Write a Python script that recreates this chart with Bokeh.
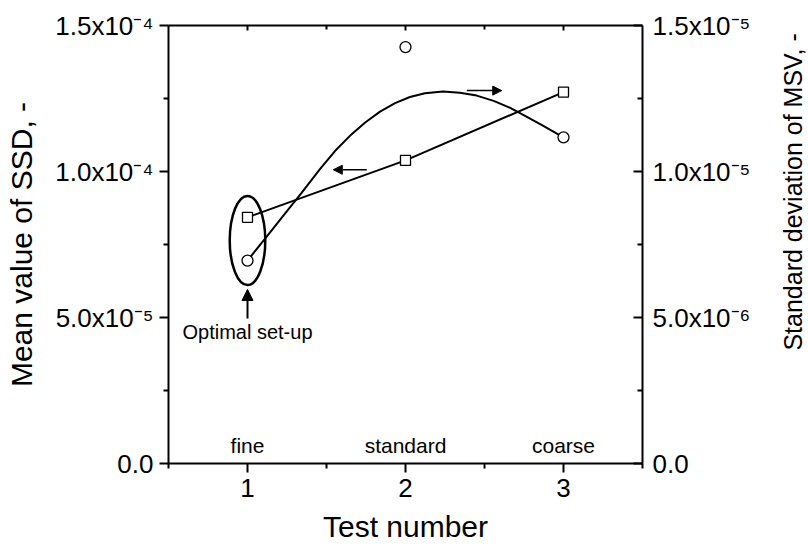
import math
from bokeh.plotting import figure
from bokeh.layouts import row
from bokeh.models import Range1d, LinearAxis, FixedTicker, Arrow, NormalHead
from bokeh.core.properties import value
from bokeh.embed import file_html
from bokeh.resources import INLINE

# ---- data ----
test_number = [1, 2, 3]
set_up_names = ["fine", "standard", "coarse"]
ssd_mean = [8.43e-5, 1.038e-4, 1.272e-4]          # left axis, squares
msv_std = [6.95e-6, 1.426e-5, 1.117e-5]           # right axis, circles
# smooth curve drawn through the MSV points
curve_x = [1.000, 1.114, 1.227, 1.341, 1.461, 1.555, 1.650, 1.745, 1.839, 1.934,
           2.028, 2.123, 2.237, 2.344, 2.451, 2.558, 2.659, 2.722, 2.861, 3.000]
curve_y = [6.95e-6, 7.72e-6, 8.49e-6, 9.26e-6, 1.010e-5, 1.071e-5, 1.123e-5, 1.168e-5,
           1.205e-5, 1.234e-5, 1.255e-5, 1.268e-5, 1.274e-5, 1.270e-5, 1.260e-5,
           1.242e-5, 1.219e-5, 1.201e-5, 1.160e-5, 1.117e-5]

left_ticks = [0, 5e-5, 1e-4, 1.5e-4]
left_labels = ["0.0", "5.0x10\u207b\u2075", "1.0x10\u207b\u2074", "1.5x10\u207b\u2074"]
right_ticks = [0, 5e-6, 1e-5, 1.5e-5]
right_labels = ["0.0", "5.0x10\u207b\u2076", "1.0x10\u207b\u2075", "1.5x10\u207b\u2075"]
right_title = "Standard deviation of MSV, -"

FONT = "Liberation Sans"

p = figure(width=770, height=550, output_backend="svg", toolbar_location=None,
           x_range=Range1d(0.5, 3.5), y_range=Range1d(0, 1.5e-4),
           min_border_left=168, min_border_right=128, min_border_top=25, min_border_bottom=87)
p.extra_y_ranges = {"right": Range1d(0, 1.5e-5)}
p.xgrid.grid_line_color = None
p.ygrid.grid_line_color = None
p.outline_line_color = None
p.background_fill_color = "white"
p.border_fill_color = "white"

def style(ax):
    ax.axis_line_width = 2
    ax.major_tick_line_width = 2
    ax.minor_tick_line_width = 2
    ax.axis_line_color = "black"
    ax.major_tick_line_color = "black"
    ax.minor_tick_line_color = "black"
    ax.major_label_text_font = FONT
    ax.axis_label_text_font = FONT
    ax.major_label_text_color = "black"
    ax.axis_label_text_color = "black"
    ax.axis_label_text_font_style = "normal"

# bottom axis
xa = p.xaxis[0]
style(xa)
xa.ticker = FixedTicker(ticks=test_number, minor_ticks=[0.5, 1.5, 2.5, 3.5])
xa.major_tick_out = 9
xa.major_tick_in = 0
xa.minor_tick_out = 5
xa.minor_tick_in = 0
xa.major_label_text_font_size = "26px"
xa.axis_label = "Test number"
xa.axis_label_text_font_size = "30px"
xa.major_label_standoff = 6
xa.axis_label_standoff = 10

# left axis
ya = p.yaxis[0]
style(ya)
ya.ticker = FixedTicker(ticks=left_ticks, minor_ticks=[2.5e-5, 7.5e-5, 1.25e-4])
ya.major_label_overrides = dict(zip(left_ticks, left_labels))
ya.major_tick_out = 9
ya.major_tick_in = 0
ya.minor_tick_out = 5
ya.minor_tick_in = 0
ya.major_label_text_font_size = "26px"
ya.axis_label = "Mean value of SSD, -"
ya.axis_label_text_font_size = "30px"
ya.major_label_standoff = 6
ya.axis_label_standoff = 14

# right axis
ra = LinearAxis(y_range_name="right")
style(ra)
ra.ticker = FixedTicker(ticks=right_ticks, minor_ticks=[2.5e-6, 7.5e-6, 1.25e-5])
ra.major_label_overrides = dict(zip(right_ticks, right_labels))
ra.major_tick_in = 9
ra.major_tick_out = 0
ra.minor_tick_in = 5
ra.minor_tick_out = 0
ra.major_label_text_font_size = "26px"
ra.major_label_standoff = 10
p.add_layout(ra, "right")

# top axis (ticks only)
ta = LinearAxis()
style(ta)
ta.ticker = FixedTicker(ticks=test_number, minor_ticks=[1.5, 2.5])
ta.major_label_overrides = {t: "" for t in test_number}
ta.major_label_text_font_size = "1px"
ta.major_tick_in = 5
ta.major_tick_out = 0
ta.minor_tick_in = 4
ta.minor_tick_out = 0
ta.major_label_standoff = 0
p.add_layout(ta, "above")

# series
p.line(curve_x, curve_y, y_range_name="right", line_color="black", line_width=2)
p.line(test_number, ssd_mean, line_color="black", line_width=2)
p.scatter(test_number, ssd_mean, marker="square", size=10, fill_color="white",
          line_color="black", line_width=1.3)
p.scatter(test_number, msv_std, marker="circle", size=11, fill_color="white",
          line_color="black", line_width=1.3, y_range_name="right")

# set-up names along the bottom
p.text(x=test_number, y=[6.2e-6] * 3, text=set_up_names, text_font=value(FONT),
       text_font_size="21px", text_align="center", text_baseline="middle",
       text_color="black")

# axis-indicating arrows
p.add_layout(Arrow(end=NormalHead(size=9, fill_color="black", line_color="black"),
                   x_start=1.755, y_start=1.006e-4, x_end=1.543, y_end=1.006e-4,
                   line_width=1.5, line_color="black"))
p.add_layout(Arrow(end=NormalHead(size=9, fill_color="black", line_color="black"),
                   x_start=2.388, y_start=1.277e-4, x_end=2.609, y_end=1.277e-4,
                   line_width=1.5, line_color="black"))

# optimal set-up highlight
p.ellipse(x=[1.0], y=[7.637e-5], width=0.225, height=3.05e-5, fill_alpha=0,
          line_color="black", line_width=2.5)
p.add_layout(Arrow(end=NormalHead(size=11, fill_color="black", line_color="black"),
                   x_start=1.0, y_start=4.97e-5, x_end=1.0, y_end=5.96e-5,
                   line_width=2, line_color="black"))
p.text(x=[1.0], y=[4.49e-5], text=["Optimal set-up"], text_font=value(FONT),
       text_font_size="20px", text_align="center", text_baseline="middle",
       text_color="black")

# right-hand axis title, reading bottom-to-top, in a narrow strip
t = figure(width=38, height=550, output_backend="svg", toolbar_location=None,
           x_range=Range1d(0, 1), y_range=Range1d(0, 1),
           min_border=0, x_axis_location=None, y_axis_location=None)
t.xgrid.grid_line_color = None
t.ygrid.grid_line_color = None
t.outline_line_color = None
t.background_fill_color = "white"
t.border_fill_color = "white"
t.text(x=[0.58], y=[0.62], text=[right_title], angle=math.pi / 2,
       text_font=value(FONT), text_font_size="25px", text_align="center",
       text_baseline="middle", text_color="black")

layout = row(p, t, spacing=0)
open("out.html", "w").write(file_html(layout, INLINE))
